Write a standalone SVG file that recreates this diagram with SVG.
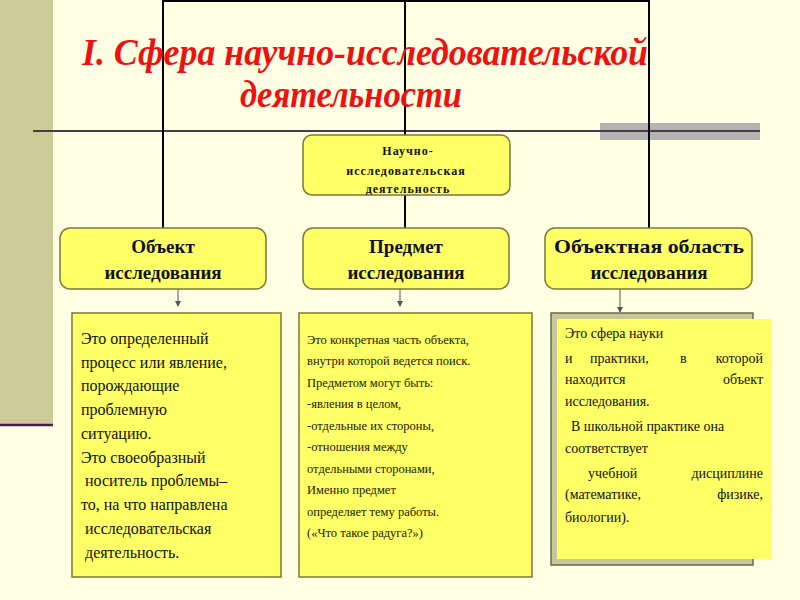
<svg xmlns="http://www.w3.org/2000/svg" width="800" height="600" viewBox="0 0 800 600">
<style>
.box{fill:#FFFF66;stroke:#7A7A3A;stroke-width:1.5}
.ln{stroke:#000;stroke-width:2;fill:none}
.ar{stroke:#555;stroke-width:1;fill:none;marker-end:url(#ah)}
.title{font-family:"Liberation Serif",serif;font-weight:bold;font-style:italic;font-size:38px;fill:#EE1111}
.hd{font-family:"Liberation Serif",serif;font-weight:bold;font-size:19px;fill:#111;text-anchor:middle}
.sm{font-family:"Liberation Serif",serif;font-weight:bold;font-size:12px;letter-spacing:1px;fill:#111;text-anchor:middle}
.t1{font-family:"Liberation Serif",serif;font-size:16px;fill:#111}
.t2{font-family:"Liberation Serif",serif;font-size:12.5px;fill:#222200}
.t3{font-family:"Liberation Serif",serif;font-size:14px;fill:#111}
.e{text-anchor:end}
</style>
<defs>
<marker id="ah" markerWidth="6" markerHeight="6" refX="5" refY="3" orient="auto" markerUnits="userSpaceOnUse">
<path d="M0,0 L6,3 L0,6 z" fill="#555"/>
</marker>
</defs>
<rect x="0" y="0" width="800" height="600" fill="#FFFFE3"/>
<rect x="0" y="0" width="53" height="424" fill="#CCCC99"/>
<line x1="0" y1="425" x2="53" y2="425" stroke="#4B1B4B" stroke-width="2.5"/>
<rect x="600" y="123" width="160" height="17" fill="#B3B3B3"/>
<line x1="33" y1="131" x2="760" y2="131" stroke="#4A3A4A" stroke-width="2"/>

<g id="connectors">
<polyline class="ln" points="163,228 163,1 649,1 649,228"/>
<line class="ln" x1="405" y1="0" x2="405" y2="228"/>
<line class="ar" x1="178" y1="289" x2="178" y2="306"/>
<line class="ar" x1="400" y1="289" x2="400" y2="306"/>
<line class="ar" x1="620" y1="289" x2="620" y2="312"/>
</g>

<g id="title">
<text class="title" x="82" y="65" textLength="566" lengthAdjust="spacingAndGlyphs">I. Сфера научно-исследовательской</text>
<text class="title" x="240" y="107" textLength="222" lengthAdjust="spacingAndGlyphs">деятельности</text>
</g>

<g id="root">
<rect class="box" x="303" y="135" width="207" height="60" rx="9"/>
<text class="sm" x="408" y="155">Научно-</text>
<text class="sm" x="406" y="175">исследовательская</text>
<text class="sm" x="408" y="193">деятельность</text>
</g>

<g id="object">
<rect class="box" x="60" y="228" width="206" height="61" rx="10"/>
<text class="hd" x="163" y="253">Объект</text>
<text class="hd" x="163" y="279">исследования</text>
</g>
<g id="subject">
<rect class="box" x="303" y="228" width="206" height="61" rx="10"/>
<text class="hd" x="406" y="253">Предмет</text>
<text class="hd" x="406" y="279">исследования</text>
</g>
<g id="area">
<rect class="box" x="545" y="228" width="207" height="61" rx="10"/>
<text class="hd" x="649" y="253" textLength="190" lengthAdjust="spacingAndGlyphs">Объектная область</text>
<text class="hd" x="649" y="279">исследования</text>
</g>

<g id="object-desc">
<rect class="box" x="72" y="313" width="209" height="264"/>
<text class="t1" x="81" y="344">Это определенный</text>
<text class="t1" x="81" y="368">процесс или явление,</text>
<text class="t1" x="81" y="391">порождающие</text>
<text class="t1" x="81" y="415">проблемную</text>
<text class="t1" x="81" y="439">ситуацию.</text>
<text class="t1" x="81" y="463">Это своеобразный</text>
<text class="t1" x="85" y="486">носитель проблемы–</text>
<text class="t1" x="81" y="510">то, на что направлена</text>
<text class="t1" x="85" y="534">исследовательская</text>
<text class="t1" x="85" y="558">деятельность.</text>
</g>

<g id="subject-desc">
<rect class="box" x="299" y="313" width="233" height="264"/>
<text class="t2" x="307" y="344">Это конкретная часть объекта,</text>
<text class="t2" x="307" y="365">внутри которой ведется поиск.</text>
<text class="t2" x="307" y="387">Предметом  могут быть:</text>
<text class="t2" x="307" y="408">-явления в целом,</text>
<text class="t2" x="307" y="430">-отдельные их стороны,</text>
<text class="t2" x="307" y="451">-отношения между</text>
<text class="t2" x="307" y="473">отдельными сторонами,</text>
<text class="t2" x="307" y="494">Именно предмет</text>
<text class="t2" x="307" y="516">определяет тему работы.</text>
<text class="t2" x="307" y="537">(«Что такое радуга?»)</text>
</g>

<g id="area-desc">
<rect x="551" y="313" width="202" height="252" fill="#C8C896" stroke="#6A6A50" stroke-width="1.5"/>
<rect x="557" y="319" width="215" height="240" fill="#FFFF66"/>
<text class="t3" x="565" y="338">Это сфера науки</text>
<text class="t3" x="565" y="363">и</text>
<text class="t3" x="590" y="363">практики,</text>
<text class="t3" x="680" y="363">в</text>
<text class="t3 e" x="763" y="363">которой</text>
<text class="t3" x="565" y="384">находится</text>
<text class="t3 e" x="763" y="384">объект</text>
<text class="t3" x="565" y="406">исследования.</text>
<text class="t3" x="571" y="431">В школьной практике она</text>
<text class="t3" x="565" y="453">соответствует</text>
<text class="t3" x="588" y="478">учебной</text>
<text class="t3 e" x="763" y="478">дисциплине</text>
<text class="t3" x="565" y="499">(математике,</text>
<text class="t3 e" x="763" y="499">физике,</text>
<text class="t3" x="565" y="522">биологии).</text>
</g>
</svg>
